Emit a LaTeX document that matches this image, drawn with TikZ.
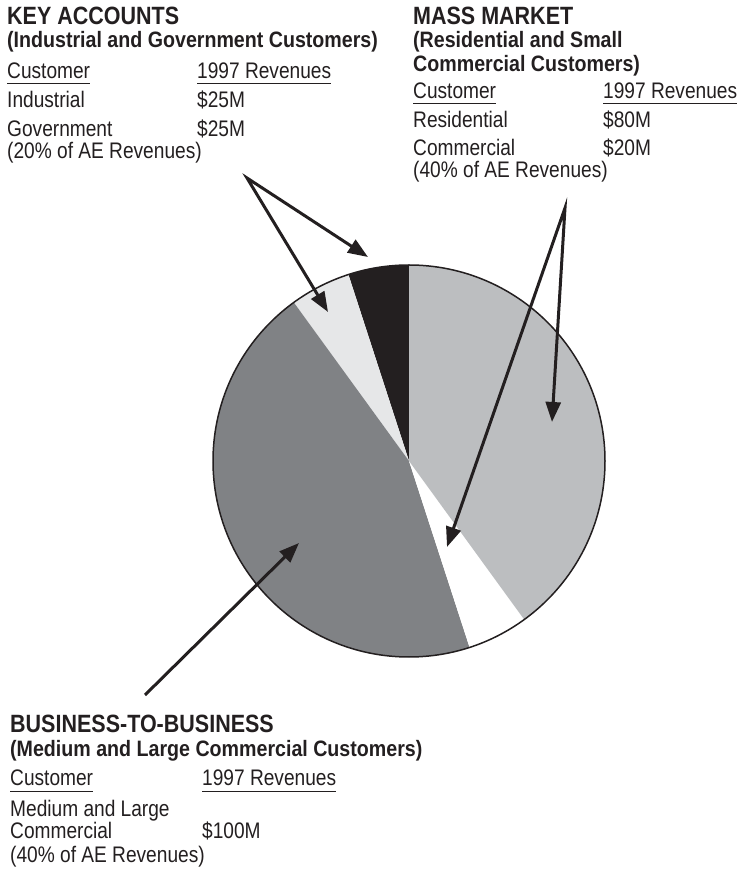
\documentclass[tikz,border=0pt]{standalone}
\usepackage{fontspec}
\newfontfamily\headfont[FakeStretch=0.86]{Liberation Sans}
\newfontfamily\subfont[FakeStretch=0.88]{Liberation Sans}
\newfontfamily\bodyfont[FakeStretch=0.85]{Liberation Sans}
\usetikzlibrary{arrows.meta}

\definecolor{inkblack}{HTML}{231F20}
\definecolor{palegray}{HTML}{E6E7E8}
\definecolor{midgray}{HTML}{BCBEC0}
\definecolor{deepgray}{HTML}{808285}

\begin{document}
\begin{tikzpicture}[
    x=1pt, y=1pt,
    >={Triangle[length=20pt,width=15pt]}, % big filled heads
    % Styles
    head/.style={ % Segment title
        anchor=base west,
        inner sep=0pt,
        text=inkblack,
        font=\headfont\bfseries\fontsize{25}{25}\selectfont
    },
    sub/.style={ % Segment subtitle
        head,
        font=\subfont\bfseries\fontsize{22.3}{22.3}\selectfont
    },
    body/.style={ % Table text
        head,
        font=\bodyfont\fontsize{22.5}{22.5}\selectfont
    },
    rule/.style={
        inkblack,
        line width=0.9pt
    },
    pointer/.style={
        inkblack,
        line width=3pt
    }
]
    \useasboundingbox (0,0) rectangle (739,871);

    % Pie chart
    \coordinate (pie) at (409,410);
    \foreach \a/\b/\c in {90/108/inkblack, 108/126/palegray, 126/288/deepgray,
                          288/306/white, 306/450/midgray}
        \fill[\c] (pie) -- ++(\a:196) arc[start angle=\a, end angle=\b, radius=196] -- cycle;
    \draw[inkblack, line width=1.5pt] (pie) circle[radius=196];

    % Key accounts
    \node[head] (khead) at (7,846) {KEY ACCOUNTS};
    \node[sub] (ksub) at (7,823) {(Industrial and Government Customers)};
    \node[body] (kcust) at (7,792) {Customer};
    \node[body] (krev) at (197,792) {1997 Revenues};
    \node[body] (kind) at (7,763) {Industrial};
    \node[body] (kindval) at (197,763) {\$25M};
    \node[body] (kgov) at (7,734) {Government};
    \node[body] (kgovval) at (197,734) {\$25M};
    \node[body] (kshare) at (7,712) {(20\% of AE Revenues)};
    \draw[rule] ([yshift=-4pt]kcust.base west) -- ([yshift=-4pt]kcust.base east);
    \draw[rule] ([yshift=-4pt]krev.base west) -- ([yshift=-4pt]krev.base east);

    % Mass market
    \node[head] (mhead) at (413,846) {MASS MARKET};
    \node[sub] (msub) at (413,823) {(Residential and Small};
    \node[sub] (msubb) at (413,799) {Commercial Customers)};
    \node[body] (mcust) at (413,772) {Customer};
    \node[body] (mrev) at (603,772) {1997 Revenues};
    \node[body] (mres) at (413,743) {Residential};
    \node[body] (mresval) at (603,743) {\$80M};
    \node[body] (mcom) at (413,715) {Commercial};
    \node[body] (mcomval) at (603,715) {\$20M};
    \node[body] (mshare) at (413,693) {(40\% of AE Revenues)};
    \draw[rule] ([yshift=-4pt]mcust.base west) -- ([yshift=-4pt]mcust.base east);
    \draw[rule] ([yshift=-4pt]mrev.base west) -- ([yshift=-4pt]mrev.base east);

    % Business-to-business
    \node[head] (bhead) at (10,138) {BUSINESS-TO-BUSINESS};
    \node[sub] (bsub) at (10,114) {(Medium and Large Commercial Customers)};
    \node[body] (bcust) at (10,85) {Customer};
    \node[body] (brev) at (202,85) {1997 Revenues};
    \node[body] (bmed) at (10,54) {Medium and Large};
    \node[body] (bcom) at (10,32) {Commercial};
    \node[body] (bcomval) at (202,32) {\$100M};
    \node[body] (bshare) at (10,9) {(40\% of AE Revenues)};
    \draw[rule] ([yshift=-5pt]bcust.base west) -- ([yshift=-5pt]bcust.base east);
    \draw[rule] ([yshift=-5pt]brev.base west) -- ([yshift=-5pt]brev.base east);

    % Pointer ends
    \coordinate (kapex) at (247,693);
    \coordinate (kblack) at (368,614);
    \coordinate (kpale) at (328,559);
    \coordinate (mapex) at (565,663);
    \coordinate (mslice) at (552,449);
    \coordinate (mwhite) at (447,324);
    \coordinate (btail) at (145,176);
    \coordinate (bdeep) at (299,328);

    % Pointers
    \draw[pointer, <->] (kpale) -- (kapex) -- (kblack);
    \draw[pointer, <->] (mwhite) -- (mapex) -- (mslice);
    \draw[pointer, ->] (btail) -- (bdeep);
\end{tikzpicture}
\end{document}
